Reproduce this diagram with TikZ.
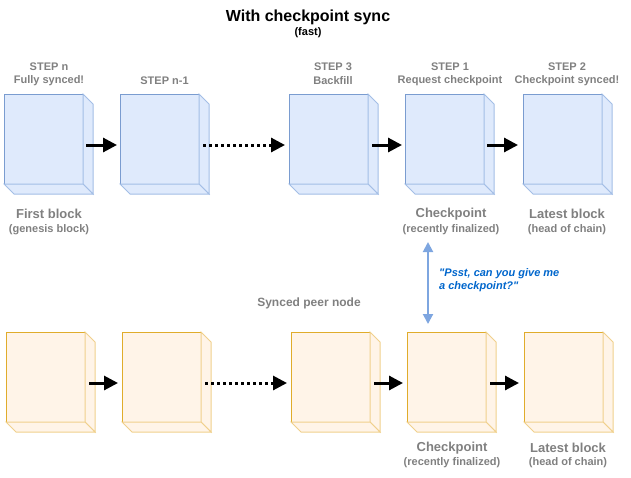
\documentclass[tikz,border=0pt]{standalone}
\usepackage{fontspec}
\setmainfont{Liberation Sans}
\newfontfamily\psstfont{Liberation Sans}
\usetikzlibrary{arrows.meta}
\definecolor{bfill}{HTML}{DFEAFC}
\definecolor{bline}{HTML}{7A9CD0}
\definecolor{bside}{HTML}{A3BEE6}
\definecolor{ofill}{HTML}{FFF4E8}
\definecolor{oline}{HTML}{E0AC2B}
\definecolor{oside}{HTML}{F0D08C}
\definecolor{lbl}{HTML}{808080}
\definecolor{psst}{HTML}{0066CC}
\definecolor{dbl}{HTML}{7EA6E0}
\tikzset{
  face/.style={draw=#1line, fill=#1fill, line width=1pt, minimum width=79pt, minimum height=90pt, inner sep=0pt, outer sep=0pt, anchor=north west},
  sideface/.style={draw=#1side, fill=#1fill, line width=1pt, line join=miter},
  blk/.style={line width=3pt, -{Triangle[length=14pt,width=14pt]}},
  dotblk/.style={line width=3pt, dash pattern=on 3pt off 3pt, -{Triangle[length=14pt,width=14pt]}},
  steplbl/.style={text=lbl, font=\bfseries\fontsize{11}{13}\selectfont, inner sep=0pt},
  biglbl/.style={text=lbl, font=\bfseries\fontsize{13}{15}\selectfont, inner sep=0pt},
  smalllbl/.style={text=lbl, font=\bfseries\fontsize{11}{13}\selectfont, inner sep=0pt},
}
\newcommand\mycube[4]{%
  \node[face=#4] (#1) at (#2,#3) {};
  \draw[sideface=#4] (#1.north east) -- ++(10,10) -- ++(0,90) -- ++(-10,-10) -- cycle;
  \draw[sideface=#4] (#1.south west) -- ++(10,10) -- ++(79,0) -- ++(-10,-10) -- cycle;
}
\begin{document}
\begin{tikzpicture}[x=1pt,y=-1pt]
\useasboundingbox (0,0) rectangle (631,477);
% title
\node[font=\bfseries\fontsize{16}{19}\selectfont, inner sep=0pt] (title) at (308,17) {With checkpoint sync};
\node[font=\bfseries\fontsize{11}{13}\selectfont, inner sep=0pt] (fast) at (308,33) {(fast)};
% top row
\mycube{a1}{4}{94}{b}
\mycube{a2}{120}{94}{b}
\mycube{a3}{289}{94}{b}
\mycube{a4}{405}{94}{b}
\mycube{a5}{523}{94}{b}
\draw[blk] ([shift={(3,6)}]a1.east) -- ([shift={(-3,6)}]a2.west);
\draw[dotblk] ([shift={(4,6)}]a2.east) -- ([shift={(-4,6)}]a3.west);
\draw[blk] ([shift={(4,6)}]a3.east) -- ([shift={(-3,6)}]a4.west);
\draw[blk] ([shift={(3,6)}]a4.east) -- ([shift={(-5,6)}]a5.west);
% step labels
\node[steplbl] (s1a) at (49,67) {STEP n};
\node[steplbl] (s1b) at (49,81) {Fully synced!};
\node[steplbl] (s2a) at (164.5,81) {STEP n-1};
\node[steplbl] (s3a) at (333,67) {STEP 3};
\node[steplbl] (s3b) at (333,81) {Backfill};
\node[steplbl] (s4a) at (450,67) {STEP 1};
\node[steplbl] (s4b) at (450,81) {Request checkpoint};
\node[steplbl] (s5a) at (567,67) {STEP 2};
\node[steplbl] (s5b) at (567,81) {Checkpoint synced!};
% labels below top row
\node[biglbl] (fb) at (49,214) {First block};
\node[smalllbl] (gb) at (49,230) {(genesis block)};
\node[biglbl] (cp1) at (451,214) {Checkpoint};
\node[smalllbl] (rf1) at (451,230) {(recently finalized)};
\node[biglbl] (lb1) at (567,214) {Latest block};
\node[smalllbl] (hc1) at (567,230) {(head of chain)};
% request arrow
\coordinate (rqtop) at (428,242);
\coordinate (rqbot) at (428,324);
\draw[draw=dbl, line width=2pt, {Triangle[length=10pt,width=10pt]}-{Triangle[length=10pt,width=10pt]}] (rqtop) -- (rqbot);
\node[text=psst, font=\psstfont\bfseries\itshape\fontsize{11}{13}\selectfont, inner sep=0pt, anchor=west] (ps1) at (439,274) {"Psst, can you give me};
\node[text=psst, font=\psstfont\bfseries\itshape\fontsize{11}{13}\selectfont, inner sep=0pt, anchor=west] (ps2) at (439,287) {a checkpoint?"};
\node[text=lbl, font=\bfseries\fontsize{12}{14}\selectfont, inner sep=0pt] (peer) at (309,303) {Synced peer node};
% bottom row
\mycube{c1}{6}{332}{o}
\mycube{c2}{122}{332}{o}
\mycube{c3}{291}{332}{o}
\mycube{c4}{407}{332}{o}
\mycube{c5}{524}{332}{o}
\draw[blk] ([shift={(4,6)}]c1.east) -- ([shift={(-4,6)}]c2.west);
\draw[dotblk] ([shift={(4,6)}]c2.east) -- ([shift={(-4,6)}]c3.west);
\draw[blk] ([shift={(4,6)}]c3.east) -- ([shift={(-4,6)}]c4.west);
\draw[blk] ([shift={(4,6)}]c4.east) -- ([shift={(-5,6)}]c5.west);
\node[biglbl] (cp2) at (452,448) {Checkpoint};
\node[smalllbl] (rf2) at (452,463) {(recently finalized)};
\node[biglbl] (lb2) at (568,448) {Latest block};
\node[smalllbl] (hc2) at (568,463) {(head of chain)};
\end{tikzpicture}
\end{document}
